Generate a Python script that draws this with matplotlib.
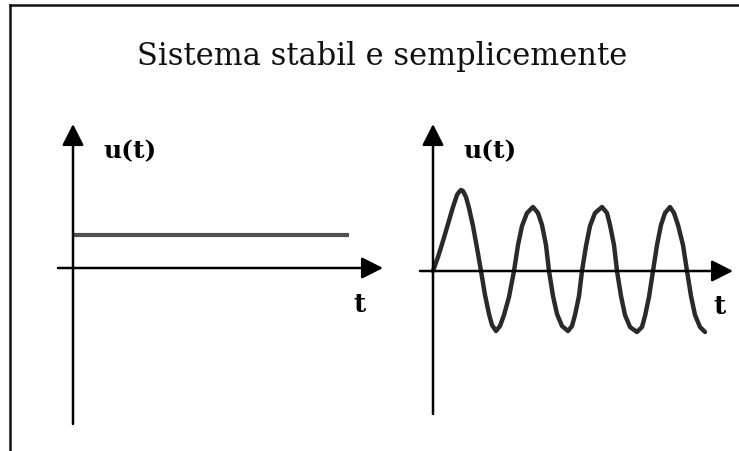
import numpy as np
import matplotlib
matplotlib.use("Agg")
import matplotlib.pyplot as plt
from matplotlib.lines import Line2D

# --- data (pixel-like units, origin at each plot's axis crossing) ---
# left: constant response
t_step = [0, 276]
u_step = [33, 33]

# right: oscillating response
t_osc = [0, 5, 10, 15, 20, 24, 26, 28, 30, 33, 36, 40, 44, 48,
         52, 56, 59, 63, 67, 71, 76, 81,
         85, 89, 94, 100, 105, 109, 113, 116,
         120, 124, 129, 135, 139, 142, 146, 149,
         153, 157, 162, 169, 174, 177, 181, 184,
         188, 192, 197, 204, 209, 212, 216, 220,
         224, 228, 232, 237, 241, 245, 250, 254,
         258, 262, 267, 272]
u_osc = [0, 14, 30, 47, 64, 76, 79, 81, 80, 74, 63, 45, 23, 0,
         -24, -43, -54, -60, -55, -44, -26, 0,
         26, 45, 58, 64, 58, 46, 26, 0,
         -25, -43, -55, -60, -55, -44, -25, 0,
         25, 45, 58, 64, 58, 46, 26, 0,
         -25, -44, -56, -61, -56, -45, -26, 0,
         26, 46, 58, 64, 58, 46, 26, 0,
         -25, -44, -56, -61]

title = "Sistema stabil e semplicemente"
ylabel = "u(t)"
xlabel = "t"

W, H = 739, 452
fig = plt.figure(figsize=(W / 100, H / 100), dpi=100)
fig.patch.set_facecolor("white")

# frame (only left and top edges visible)
fig.add_artist(Line2D([10 / W, 10 / W], [0, 1 - 5.5 / H], color="#111111", lw=1.8))
fig.add_artist(Line2D([10 / W, 1], [1 - 5.5 / H, 1 - 5.5 / H], color="#111111", lw=1.8))

fig.text(382 / W, 1 - 57 / H, title, ha="center", va="center",
         family="DejaVu Serif", fontsize=22, color="#111111")


def make_axes(ox, oy):
    # full-figure axes, 1 data unit = 1 pixel, origin at (ox, oy) pixel
    ax = fig.add_axes([0, 0, 1, 1])
    ax.set_xlim(-ox, W - ox)
    ax.set_ylim(oy - H, oy)
    ax.axis("off")
    ax.patch.set_alpha(0)
    return ax


arrow = dict(arrowstyle="-|>,head_length=0.65,head_width=0.33", mutation_scale=20,
             color="black", lw=1.8, shrinkA=0, shrinkB=0)


def draw_axes(ax, x0, x1, y0, y1):
    ax.annotate("", xy=(x1, 0), xytext=(x0, 0), arrowprops=arrow)
    ax.annotate("", xy=(0, y1), xytext=(0, y0), arrowprops=arrow)


# left plot
ax1 = make_axes(73, 269)
draw_axes(ax1, -15, 310, -156, 144)
ax1.plot(t_step, u_step, color="#505050", lw=3, solid_capstyle="butt")
ax1.text(130 - 73, 269 - 151, ylabel, ha="center", va="center",
         family="DejaVu Serif", fontweight="bold", fontsize=18)
ax1.text(359 - 73, 269 - 305, xlabel, ha="center", va="center",
         family="DejaVu Serif", fontweight="bold", fontsize=19)

# right plot
ax2 = make_axes(433, 272)
draw_axes(ax2, -13, 300, -143, 147)
ax2.plot(t_osc, u_osc, color="#2a2a2a", lw=3.2, solid_joinstyle="round",
         solid_capstyle="round")
ax2.text(490 - 433, 272 - 151, ylabel, ha="center", va="center",
         family="DejaVu Serif", fontweight="bold", fontsize=18)
ax2.text(719 - 433, 272 - 306, xlabel, ha="center", va="center",
         family="DejaVu Serif", fontweight="bold", fontsize=19)

fig.savefig("out.png", dpi=100, facecolor="white")
